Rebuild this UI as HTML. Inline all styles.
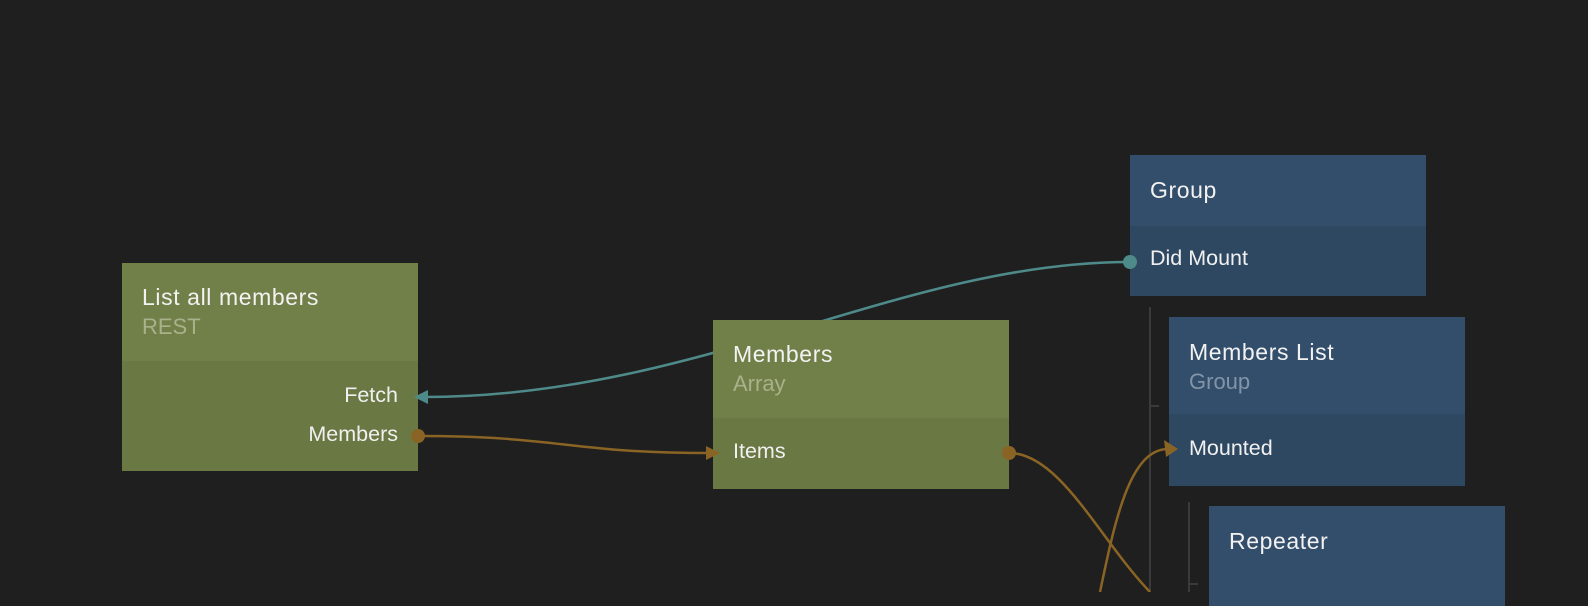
<!DOCTYPE html>
<html><head><style>
body{margin:0;width:1588px;height:592px;background:#1f1f1f;overflow:hidden;position:relative;font-family:"Liberation Sans","DejaVu Sans",sans-serif;}
.n{position:absolute;width:296px;}
.t{position:absolute;left:20px;font-size:23px;letter-spacing:0.6px;color:#f2f2f2;white-space:nowrap;}
.s{position:absolute;left:20px;font-size:22px;white-space:nowrap;}
.p{position:absolute;font-size:21.5px;color:#f0f0f0;white-space:nowrap;}
svg{position:absolute;left:0;top:0;}
</style></head><body>
<svg width="1588" height="592" style="z-index:0">
<path d="M1130,262 C 900,262 700,397 424,397" stroke="#4f8a8a" stroke-width="2.5" fill="none"/>
<line x1="1150" y1="307" x2="1150" y2="592" stroke="#3a3a3a" stroke-width="2"/>
<line x1="1150" y1="406" x2="1159" y2="406" stroke="#3a3a3a" stroke-width="2"/>
<line x1="1189" y1="502" x2="1189" y2="592" stroke="#3a3a3a" stroke-width="2"/>
<line x1="1189" y1="584" x2="1198" y2="584" stroke="#3a3a3a" stroke-width="2"/>
</svg>
<div class="n" style="left:122px;top:263px;height:208px;background:#6a7844">
<div style="height:98px;background:#718049"></div>
<div class="t" style="top:21px">List all members</div>
<div class="s" style="top:51px;color:#a9b18a">REST</div>
<div class="p" style="right:20px;top:120px">Fetch</div>
<div class="p" style="right:20px;top:159px">Members</div>
</div>
<div class="n" style="left:713px;top:320px;height:169px;background:#6a7844;z-index:1">
<div style="height:98px;background:#718049"></div>
<div class="t" style="top:21px">Members</div>
<div class="s" style="top:51px;color:#a9b18a">Array</div>
<div class="p" style="left:20px;top:119px">Items</div>
</div>
<div class="n" style="left:1130px;top:155px;height:141px;background:#2f4862;z-index:1">
<div style="height:71px;background:#334e6b"></div>
<div class="t" style="top:22px">Group</div>
<div class="p" style="left:20px;top:91px">Did Mount</div>
</div>
<div class="n" style="left:1169px;top:317px;height:169px;background:#2f4862;z-index:1">
<div style="height:97px;background:#334e6b"></div>
<div class="t" style="top:22px">Members List</div>
<div class="s" style="top:52px;color:#8294a8">Group</div>
<div class="p" style="left:20px;top:119px">Mounted</div>
</div>
<div class="n" style="left:1209px;top:506px;height:100px;background:#334e6b;z-index:1">
<div class="t" style="top:22px">Repeater</div>
</div>
<svg width="1588" height="592" style="z-index:2">
<path d="M418,436 C 560,436 570,453 708,453" stroke="#8a6424" stroke-width="2.5" fill="none"/>
<path d="M1009,453 C 1060,453 1100,540 1150,592" stroke="#8a6424" stroke-width="2.5" fill="none"/>
<path d="M1100,592 C 1115,520 1130,449 1168,449" stroke="#8a6424" stroke-width="2.5" fill="none"/>
<circle cx="418" cy="436" r="7" fill="#8a6424"/>
<circle cx="1009" cy="453" r="7" fill="#8a6424"/>
<circle cx="1130" cy="262" r="7" fill="#4f8a8a"/>
<polygon points="414,397 428,390 428,404" fill="#4f8a8a"/>
<polygon points="720,453 706,446 706,460" fill="#8a6424"/>
<polygon points="1178,449 1164,440 1166,457" fill="#8a6424"/>
</svg>
</body></html>
